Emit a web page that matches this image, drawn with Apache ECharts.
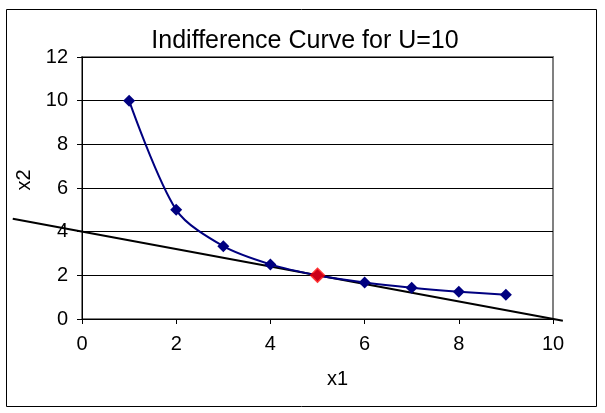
<!DOCTYPE html>
<html><head><meta charset="utf-8">
<script src="https://cdn.jsdelivr.net/npm/echarts@6/dist/echarts.min.js"></script>
<style>html,body{margin:0;padding:0;background:#fff}#c{width:605px;height:413px}</style>
</head><body><div id="c"></div>
<script>
const x1Values = [1, 2, 3, 4, 5, 6, 7, 8, 9];
const x2Values = [10, 5, 3.333, 2.5, 2, 1.667, 1.429, 1.25, 1.111];
const optimumPoint = [5, 2];
const budgetX = [-1.47, 10.21];
const budgetY = [4.588, -0.084];
const xTicks = [0, 2, 4, 6, 8, 10];
const yTicks = [0, 2, 4, 6, 8, 10, 12];

const curveData = x1Values.map((x, i) => [x, x2Values[i]]);
const budgetData = budgetX.map((x, i) => [x, budgetY[i]]);
const font = 'Liberation Sans, Arial, sans-serif';

const chart = echarts.init(document.getElementById('c'), null, {renderer: 'canvas'});
chart.setOption({
  animation: false,
  backgroundColor: '#fff',
  title: {
    text: 'Indifference Curve for U=10', left: 300, top: 24, textAlign: 'center',
    textStyle: {fontFamily: font, fontSize: 25, fontWeight: 'normal', color: '#000'}
  },
  graphic: [{type: 'rect', shape: {x: 6.5, y: 9.5, width: 590, height: 397},
    style: {fill: 'none', stroke: '#000', lineWidth: 1}, silent: true, z: -1}],
  grid: {left: 82, top: 57, width: 471, height: 262, show: true, borderColor: '#808080', borderWidth: 2, backgroundColor: 'transparent'},
  xAxis: {
    type: 'value', min: 0, max: 10, interval: 2,
    name: 'x1', nameLocation: 'middle', nameGap: 50,
    nameTextStyle: {fontFamily: font, fontSize: 20, color: '#000', padding: [0, 0, 0, 40]},
    axisLine: {show: true, onZero: false, lineStyle: {color: '#000', width: 1}},
    axisTick: {show: true, length: 5, lineStyle: {color: '#000'}},
    axisLabel: {fontFamily: font, fontSize: 20, color: '#000', margin: 15,
      formatter: v => xTicks.includes(v) ? String(v) : ''},
    splitLine: {show: false}
  },
  yAxis: {
    type: 'value', min: 0, max: 12, interval: 2,
    name: 'x2', nameLocation: 'middle', nameGap: 46, nameRotate: 90,
    nameTextStyle: {fontFamily: font, fontSize: 20, color: '#000', padding: [0, 0, 0, 16]},
    axisLine: {show: true, onZero: false, lineStyle: {color: '#000', width: 1}},
    axisTick: {show: true, length: 5, lineStyle: {color: '#000'}},
    axisLabel: {fontFamily: font, fontSize: 20, color: '#000', margin: 14,
      formatter: v => yTicks.includes(v) ? String(v) : ''},
    splitLine: {show: true, lineStyle: {color: '#000', width: 1}}
  },
  series: [
    {type: 'custom', data: budgetData, clip: false, z: 3,
      renderItem: function (params, api) {
        if (params.dataIndex !== 0) return null;
        const p0 = api.coord(budgetData[0]);
        const p1 = api.coord(budgetData[1]);
        return {type: 'line', shape: {x1: p0[0], y1: p0[1], x2: p1[0], y2: p1[1]},
          style: {stroke: '#000', lineWidth: 2}};
      }},
    {type: 'line', data: curveData, smooth: 0.3, symbol: 'diamond', symbolSize: 12,
      itemStyle: {color: '#000080'}, lineStyle: {color: '#000080', width: 2}, z: 4},
    {type: 'scatter', data: [optimumPoint], symbol: 'diamond', symbolSize: 16,
      itemStyle: {color: '#ff0000'}, z: 5}
  ]
});
</script></body></html>
